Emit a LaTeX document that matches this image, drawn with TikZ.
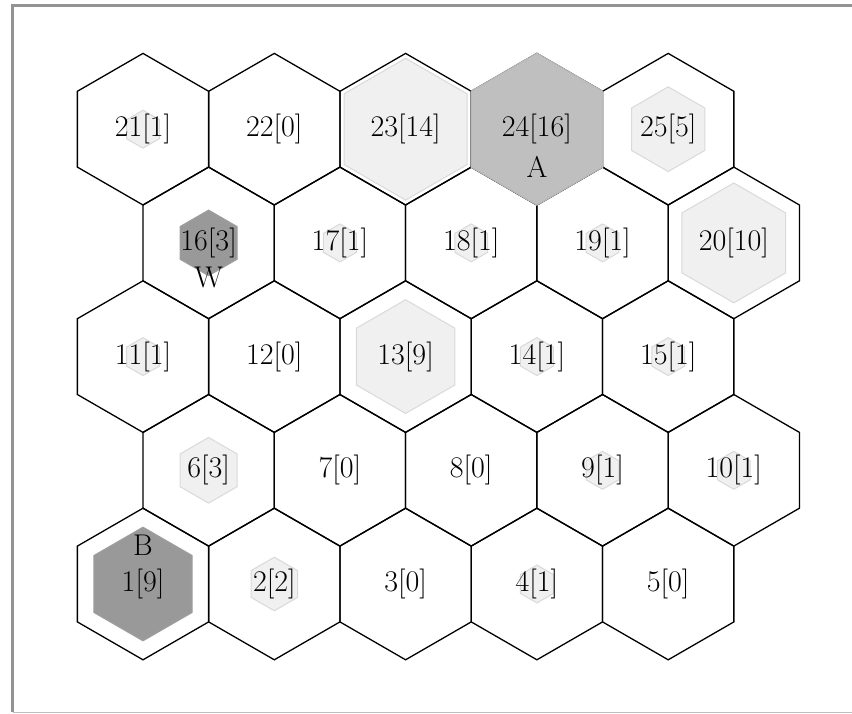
\documentclass[tikz,border=0pt]{standalone}
\usepackage{tikz}
\usetikzlibrary{shapes,positioning}

\begin{document}
\begin{tikzpicture}[x=1pt, y=-1pt,
    cell/.style={draw, regular polygon, regular polygon sides=6, shape border rotate=30, minimum size=151.6pt, inner sep=0pt, line width=1.3pt},
    dot/.style={regular polygon, regular polygon sides=6, shape border rotate=30, inner sep=0pt, minimum size={151.6pt*sqrt(#1/16)}},
    pale/.style={dot=#1, fill=gray!12, draw=gray!30, line width=1pt},
    dark/.style={dot=#1, fill=gray!80, draw=gray!75, line width=1pt},
    num/.style={font=\fontsize{30}{35}\selectfont, inner sep=0pt}
]
    \useasboundingbox (0,0) rectangle (852,714);

    % Frame
    \draw[gray!85, line width=3pt] (852,5.5) -- (12.5,5.5) -- (12.5,712);
    \draw[gray!50, line width=1.5pt] (12.5,712.5) -- (852,712.5);

    % Grid cells, row by row from the bottom
    \node[cell] (h1) at (143.0,584.0) {};
    \node[cell] (h2) at (274.3,584.0) {};
    \node[cell] (h3) at (405.6,584.0) {};
    \node[cell] (h4) at (536.9,584.0) {};
    \node[cell] (h5) at (668.2,584.0) {};
    \node[cell] (h6) at (208.6,470.3) {};
    \node[cell] (h7) at (339.9,470.3) {};
    \node[cell] (h8) at (471.2,470.3) {};
    \node[cell] (h9) at (602.5,470.3) {};
    \node[cell] (h10) at (733.8,470.3) {};
    \node[cell] (h11) at (143.0,356.6) {};
    \node[cell] (h12) at (274.3,356.6) {};
    \node[cell] (h13) at (405.6,356.6) {};
    \node[cell] (h14) at (536.9,356.6) {};
    \node[cell] (h15) at (668.2,356.6) {};
    \node[cell] (h16) at (208.6,242.9) {};
    \node[cell] (h17) at (339.9,242.9) {};
    \node[cell] (h18) at (471.2,242.9) {};
    \node[cell] (h19) at (602.5,242.9) {};
    \node[cell] (h20) at (733.8,242.9) {};
    \node[cell] (h21) at (143.0,129.2) {};
    \node[cell] (h22) at (274.3,129.2) {};
    \node[cell] (h23) at (405.6,129.2) {};
    \node[cell] (h24) at (536.9,129.2) {};
    \node[cell] (h25) at (668.2,129.2) {};

    % Load of each cell (area grows with the value)
    \node[dark=9] (f1) at (h1) {};
    \node[pale=2] (f2) at (h2) {};
    \node[pale=1] (f4) at (h4) {};
    \node[pale=3] (f6) at (h6) {};
    \node[pale=1] (f9) at (h9) {};
    \node[pale=1] (f10) at (h10) {};
    \node[pale=1] (f11) at (h11) {};
    \node[pale=9] (f13) at (h13) {};
    \node[pale=1] (f14) at (h14) {};
    \node[pale=1] (f15) at (h15) {};
    \node[dark=3] (f16) at (h16) {};
    \node[pale=1] (f17) at (h17) {};
    \node[pale=1] (f18) at (h18) {};
    \node[pale=1] (f19) at (h19) {};
    \node[pale=10] (f20) at (h20) {};
    \node[pale=1] (f21) at (h21) {};
    \node[pale=14] (f23) at (h23) {};
    \node[dot=16, fill=gray!50, draw=gray!55, line width=1.4pt] (f24) at (h24) {};
    \node[pale=5] (f25) at (h25) {};

    % Cell labels
    \node[num] (t1) at (h1) {1[9]};
    \node[num] (t2) at (h2) {2[2]};
    \node[num] (t3) at (h3) {3[0]};
    \node[num] (t4) at (h4) {4[1]};
    \node[num] (t5) at (h5) {5[0]};
    \node[num] (t6) at (h6) {6[3]};
    \node[num] (t7) at (h7) {7[0]};
    \node[num] (t8) at (h8) {8[0]};
    \node[num] (t9) at (h9) {9[1]};
    \node[num] (t10) at (h10) {10[1]};
    \node[num] (t11) at (h11) {11[1]};
    \node[num] (t12) at (h12) {12[0]};
    \node[num] (t13) at (h13) {13[9]};
    \node[num] (t14) at (h14) {14[1]};
    \node[num] (t15) at (h15) {15[1]};
    \node[num] (t16) at (h16) {16[3]};
    \node[num] (t17) at (h17) {17[1]};
    \node[num] (t18) at (h18) {18[1]};
    \node[num] (t19) at (h19) {19[1]};
    \node[num] (t20) at (h20) {20[10]};
    \node[num] (t21) at (h21) {21[1]};
    \node[num] (t22) at (h22) {22[0]};
    \node[num] (t23) at (h23) {23[14]};
    \node[num] (t24) at (h24) {24[16]};
    \node[num] (t25) at (h25) {25[5]};

    % Marked cells
    \node[num] (markA) at (536.9,167) {A};
    \node[num] (markW) at (208.6,277) {W};
    \node[num] (markB) at (143.0,545) {B};
\end{tikzpicture}
\end{document}
